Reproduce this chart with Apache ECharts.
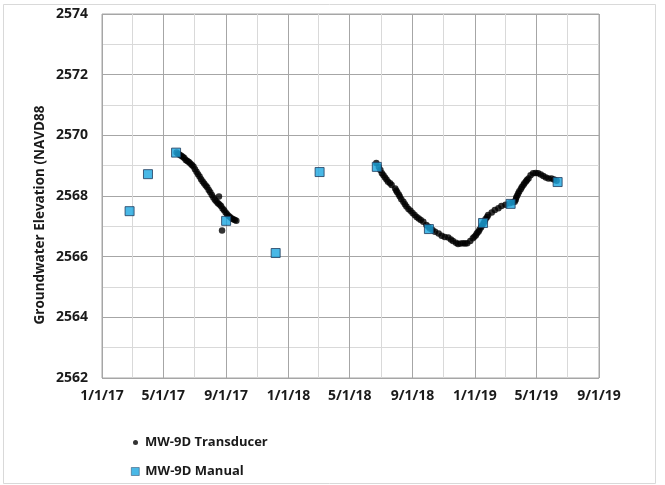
<!DOCTYPE html>
<html>
<head>
<meta charset="utf-8">
<script src="https://cdn.jsdelivr.net/npm/echarts@6/dist/echarts.min.js"></script>
<style>
  html, body { margin: 0; padding: 0; background: #ffffff; }
  #chart { width: 665px; height: 485px; }
</style>
</head>
<body>
<div id="chart"></div>
<script>
// Axis ticks (major every 4 months, minor gridlines between them)
const tickDates = ['2017-01-01', '2017-05-01', '2017-09-01', '2018-01-01', '2018-05-01',
                   '2018-09-01', '2019-01-01', '2019-05-01', '2019-09-01'];
const minorDates = ['2017-03-01', '2017-07-01', '2017-11-01', '2018-03-01',
                    '2018-07-01', '2018-11-01', '2019-03-01', '2019-07-01'];
const yTicks = [2562, 2564, 2566, 2568, 2570, 2572, 2574];

// Manual water-level measurements
const manualDates = ['2017-02-24', '2017-04-01', '2017-05-26', '2017-09-01', '2017-12-07',
                     '2018-03-03', '2018-06-23', '2018-10-03', '2019-01-17', '2019-03-12', '2019-06-12'];
const manualLevels = [2567.50, 2568.72, 2569.43, 2567.18, 2566.12,
                      2568.79, 2568.96, 2566.91, 2567.11, 2567.74, 2568.46];

// Transducer record, 2017 deployment
const transducer2017Dates = [
  '2017-05-27', '2017-05-30', '2017-06-02', '2017-06-05', '2017-06-08', '2017-06-11', '2017-06-14',
  '2017-06-17', '2017-06-20', '2017-06-23', '2017-06-26', '2017-06-29', '2017-07-02', '2017-07-05',
  '2017-07-08', '2017-07-11', '2017-07-14', '2017-07-17', '2017-07-20', '2017-07-23', '2017-07-26',
  '2017-07-29', '2017-08-01', '2017-08-04', '2017-08-07', '2017-08-10', '2017-08-13', '2017-08-16',
  '2017-08-18', '2017-08-19', '2017-08-22', '2017-08-24', '2017-08-25', '2017-08-28', '2017-08-31',
  '2017-09-03', '2017-09-06', '2017-09-09', '2017-09-12', '2017-09-15', '2017-09-18', '2017-09-21'
];
const transducer2017Levels = [
  2569.43, 2569.39, 2569.36, 2569.33, 2569.29, 2569.25, 2569.19,
  2569.15, 2569.12, 2569.07, 2569.02, 2568.97, 2568.88, 2568.80,
  2568.72, 2568.64, 2568.55, 2568.48, 2568.41, 2568.35, 2568.29,
  2568.20, 2568.12, 2568.03, 2567.95, 2567.88, 2567.82, 2567.76,
  2567.98, 2567.72, 2567.67, 2566.86, 2567.59, 2567.53, 2567.46,
  2567.40, 2567.34, 2567.30, 2567.26, 2567.23, 2567.21, 2567.18
];

// Transducer record, 2018-2019 deployment
const transducer2018Dates = [
  '2018-06-22', '2018-06-27', '2018-06-30', '2018-07-03', '2018-07-06', '2018-07-09', '2018-07-12',
  '2018-07-15', '2018-07-19', '2018-07-22', '2018-07-29', '2018-07-31', '2018-08-02', '2018-08-05',
  '2018-08-07', '2018-08-10', '2018-08-14', '2018-08-17', '2018-08-20', '2018-08-24', '2018-08-28',
  '2018-09-01', '2018-09-05', '2018-09-09', '2018-09-13', '2018-09-17', '2018-09-22', '2018-09-28',
  '2018-10-02', '2018-10-05', '2018-10-10', '2018-10-15', '2018-10-22', '2018-10-28', '2018-11-03',
  '2018-11-10', '2018-11-15', '2018-11-19', '2018-11-25', '2018-11-29', '2018-12-04', '2018-12-09',
  '2018-12-13', '2018-12-17', '2018-12-23', '2018-12-28', '2018-12-31', '2019-01-03', '2019-01-05',
  '2019-01-08', '2019-01-10', '2019-01-13', '2019-01-15', '2019-01-18', '2019-01-20', '2019-01-22',
  '2019-01-25', '2019-01-27', '2019-02-03', '2019-02-09', '2019-02-16', '2019-02-22', '2019-03-02',
  '2019-03-10', '2019-03-16', '2019-03-20', '2019-03-22', '2019-03-23', '2019-03-25', '2019-03-27',
  '2019-03-29', '2019-04-01', '2019-04-03', '2019-04-06', '2019-04-08', '2019-04-11', '2019-04-13',
  '2019-04-16', '2019-04-20', '2019-04-25', '2019-04-30', '2019-05-05', '2019-05-10', '2019-05-15',
  '2019-05-20', '2019-05-25', '2019-05-31', '2019-06-05', '2019-06-10'
];
const transducer2018Levels = [
  2569.09, 2568.96, 2568.86, 2568.75, 2568.68, 2568.61, 2568.54,
  2568.47, 2568.42, 2568.36, 2568.25, 2568.18, 2568.12, 2568.05,
  2567.98, 2567.89, 2567.81, 2567.73, 2567.65, 2567.57, 2567.51,
  2567.44, 2567.37, 2567.31, 2567.26, 2567.21, 2567.15, 2567.04,
  2566.99, 2566.93, 2566.88, 2566.82, 2566.76, 2566.69, 2566.65,
  2566.63, 2566.57, 2566.52, 2566.46, 2566.42, 2566.43, 2566.44,
  2566.43, 2566.44, 2566.52, 2566.61, 2566.66, 2566.71, 2566.77,
  2566.82, 2566.89, 2566.96, 2567.03, 2567.10, 2567.17, 2567.24,
  2567.31, 2567.37, 2567.46, 2567.54, 2567.60, 2567.67, 2567.71,
  2567.76, 2567.79, 2567.81, 2567.88, 2567.95, 2568.02, 2568.09,
  2568.16, 2568.23, 2568.30, 2568.36, 2568.42, 2568.48, 2568.53,
  2568.58, 2568.68, 2568.75, 2568.76, 2568.75, 2568.71, 2568.66,
  2568.61, 2568.58, 2568.58, 2568.54, 2568.50
];

function toTime(s) {
  const p = s.split('-').map(Number);
  return Date.UTC(p[0], p[1] - 1, p[2]);
}
function pairs(dates, values) {
  return dates.map((d, i) => [toTime(d), values[i]]);
}
function fmtDate(v) {
  const d = new Date(v);
  return (d.getUTCMonth() + 1) + '/' + d.getUTCDate() + '/' + String(d.getUTCFullYear()).slice(2);
}

const majorTimes = tickDates.map(toTime);
const minorTimes = minorDates.map(toTime);
const xMin = majorTimes[0];
const xMax = majorTimes[majorTimes.length - 1];

const FONT = '"Open Sans", "Noto Sans", sans-serif';
const TEXT = '#1a1a1a';
const MAJOR = '#a6a6a6';
const MINOR = '#d9d9d9';

const chart = echarts.init(document.getElementById('chart'), null, { renderer: 'canvas' });

chart.setOption({
  animation: false,
  backgroundColor: '#ffffff',
  textStyle: { fontFamily: FONT },
  grid: {
    left: 102, right: 66, top: 14, bottom: 107,
    show: true, borderColor: MAJOR, borderWidth: 1, backgroundColor: 'transparent'
  },
  xAxis: [
    {
      type: 'value', min: xMin, max: xMax, z: 2,
      axisLine: { show: false },
      axisTick: { show: false, customValues: majorTimes },
      axisLabel: {
        customValues: majorTimes, formatter: fmtDate, margin: 11,
        color: TEXT, fontWeight: 'bold', fontSize: 14, fontFamily: FONT
      },
      splitLine: { show: true, lineStyle: { color: MAJOR, width: 1 } }
    },
    {
      type: 'value', min: xMin, max: xMax, z: 1, position: 'bottom',
      axisLine: { show: false },
      axisTick: { show: false, customValues: minorTimes },
      axisLabel: { show: false },
      splitLine: { show: true, lineStyle: { color: MINOR, width: 1 } }
    }
  ],
  yAxis: {
    type: 'value', min: yTicks[0], max: yTicks[yTicks.length - 1], interval: yTicks[1] - yTicks[0],
    axisLine: { show: false },
    axisTick: { show: false },
    minorTick: { show: false, splitNumber: 2 },
    minorSplitLine: { show: true, lineStyle: { color: MINOR, width: 1 } },
    splitLine: { show: true, lineStyle: { color: MAJOR, width: 1 } },
    axisLabel: {
      margin: 14, color: TEXT, fontWeight: 'bold', fontSize: 14, fontFamily: FONT,
      formatter: v => String(v)
    }
  },
  legend: [
    {
      data: ['MW-9D Transducer'], orient: 'vertical', left: 133, top: 436, padding: 0,
      itemWidth: 5, itemHeight: 5, icon: 'circle',
      textStyle: { color: TEXT, fontWeight: 'bold', fontSize: 13, fontFamily: FONT, padding: [0, 0, 0, 2] }
    },
    {
      data: ['MW-9D Manual'], orient: 'vertical', left: 131, top: 465, padding: 0,
      itemWidth: 8, itemHeight: 8, icon: 'rect',
      itemStyle: { borderWidth: 0.6 },
      textStyle: { color: TEXT, fontWeight: 'bold', fontSize: 13, fontFamily: FONT, padding: [0, 0, 0, 1] }
    }
  ],
  graphic: [
    {
      type: 'rect', silent: true, z: -10,
      shape: { x: 3.5, y: 4.5, width: 652, height: 479 },
      style: { fill: 'none', stroke: '#d9d9d9', lineWidth: 1 }
    },
    {
      type: 'text', silent: true,
      x: 40, y: 215, rotation: Math.PI / 2,
      style: {
        text: 'Groundwater Elevation (NAVD88',
        font: 'bold 13.5px ' + FONT, fill: TEXT,
        align: 'center', verticalAlign: 'middle'
      }
    }
  ],
  series: [
    {
      name: 'MW-9D Transducer', type: 'scatter', xAxisIndex: 0,
      symbol: 'circle', symbolSize: 6.5,
      itemStyle: { color: '#000000' },
      data: pairs(transducer2017Dates, transducer2017Levels)
        .concat(pairs(transducer2018Dates, transducer2018Levels)),
      z: 3
    },
    {
      name: 'MW-9D Manual', type: 'scatter', xAxisIndex: 0,
      symbol: 'rect', symbolSize: 9,
      itemStyle: { color: '#1ba6e0', borderColor: '#1f3b5c', borderWidth: 1 },
      data: pairs(manualDates, manualLevels),
      z: 4
    }
  ]
});
</script>
</body>
</html>
